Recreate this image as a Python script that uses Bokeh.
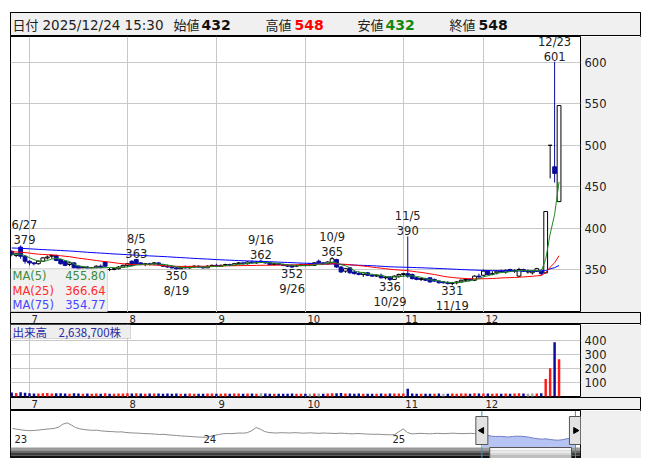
import numpy as np
import pandas as pd
from bokeh.plotting import figure
from bokeh.models import (Range1d, FixedTicker, BoxAnnotation, ColumnDataSource,
                          LabelSet, Label, Column)
from bokeh.core.properties import value
from bokeh.embed import file_html
from bokeh.resources import INLINE

# ---------------- data ----------------
holidays = ["2025-07-21", "2025-08-11", "2025-09-15", "2025-09-23",
            "2025-10-13", "2025-11-03", "2025-11-24"]
dates = [d for d in pd.bdate_range("2025-06-25", "2025-12-24")
         if d.strftime("%Y-%m-%d") not in holidays]

open_jun = [372, 367, 377, 366]
high_jun = [373, 370, 379, 367]
low_jun = [366, 365, 363, 357]
close_jun = [368, 369, 366, 360]

open_jul = [360, 358, 357, 360, 364, 366, 367, 362, 360, 356, 358, 354, 352, 353, 351, 352, 354, 359, 350, 350, 351, 353]
high_jul = [361, 359, 361, 365, 367, 368, 368, 363, 361, 359, 359, 355, 354, 354, 353, 355, 356, 360, 352, 352, 354, 356]
low_jul = [355, 355, 356, 359, 362, 363, 360, 356, 354, 354, 351, 349, 350, 350, 349, 351, 351, 353, 348, 349, 350, 352]
close_jul = [358, 357, 360, 364, 365, 367, 361, 357, 355, 358, 352, 350, 353, 351, 352, 354, 352, 354, 350, 351, 353, 355]

open_aug = [355, 360, 362, 358, 356, 357, 357, 358, 356, 354, 353, 352, 351, 353, 352, 353, 354, 353, 352, 354]
high_aug = [358, 361, 363, 359, 358, 358, 359, 359, 357, 356, 355, 353, 354, 355, 354, 355, 355, 354, 355, 356]
low_aug = [353, 354, 356, 355, 354, 355, 355, 355, 353, 352, 351, 350, 351, 351, 351, 352, 352, 351, 352, 353]
close_aug = [357, 355, 357, 356, 357, 356, 358, 356, 354, 353, 352, 351, 353, 352, 353, 354, 353, 352, 354, 355]

open_sep = [355, 354, 355, 356, 355, 357, 358, 357, 359, 358, 360, 359, 358, 356, 357, 356, 355, 355, 354, 355]
high_sep = [357, 356, 357, 357, 358, 359, 359, 360, 361, 360, 362, 360, 359, 358, 358, 357, 356, 356, 356, 357]
low_sep = [353, 353, 354, 354, 355, 356, 356, 356, 357, 357, 358, 357, 355, 355, 355, 354, 353, 352, 353, 354]
close_sep = [354, 355, 356, 355, 357, 358, 357, 359, 358, 359, 359, 358, 356, 357, 356, 355, 354, 353, 355, 356]

open_oct = [356, 357, 355, 360, 358, 357, 358, 362, 353, 348, 352, 347, 345, 344, 346, 343, 342, 343, 340, 341, 338, 342]
high_oct = [357, 358, 359, 362, 359, 360, 365, 363, 354, 352, 352, 349, 348, 347, 347, 345, 344, 345, 342, 342, 343, 345]
low_oct = [354, 354, 355, 357, 356, 356, 357, 352, 346, 346, 345, 344, 343, 341, 342, 341, 341, 339, 338, 336, 338, 340]
close_oct = [355, 355, 358, 358, 357, 359, 363, 353, 347, 351, 346, 345, 344, 346, 343, 342, 343, 340, 341, 338, 342, 344]

open_nov = [344, 345, 344, 340, 338, 339, 340, 338, 336, 335, 334, 333, 334, 335, 337, 338, 337, 342]
high_nov = [346, 390, 345, 341, 340, 340, 340, 339, 337, 336, 336, 335, 336, 338, 339, 339, 343, 345]
low_nov = [341, 340, 338, 337, 336, 336, 334, 335, 333, 333, 332, 331, 332, 334, 335, 336, 336, 340]
close_nov = [345, 342, 339, 338, 339, 337, 335, 336, 334, 334, 333, 334, 335, 337, 338, 337, 342, 341]

open_dec = [343, 348, 344, 346, 348, 347, 350, 348, 342, 350, 347, 346, 348, 349, 346, 500, 474, 432]
high_dec = [350, 349, 348, 349, 350, 350, 351, 350, 352, 351, 350, 349, 352, 350, 420, 500, 601, 548]
low_dec = [342, 343, 343, 344, 346, 345, 347, 346, 341, 347, 345, 344, 347, 343, 345, 460, 455, 432]
close_dec = [348, 344, 345, 348, 347, 349, 348, 349, 350, 348, 348, 348, 351, 345, 420, 500, 466, 548]

# closes before the visible window (for the moving averages)
pre_closes = [382, 384, 381, 379, 383, 386, 385, 388, 384, 380,
              378, 381, 379, 376, 380, 383, 382, 379, 377, 375,
              378, 380, 377, 374, 376, 379, 381, 378, 375, 377,
              380, 378, 376, 373, 375, 378, 376, 374, 377, 379,
              377, 375, 372, 374, 376, 378,
              376, 374, 372, 375, 377, 374, 371, 373, 376, 374,
              372, 370, 373, 375, 372, 369, 371, 374, 372, 370,
              368, 371, 373, 370, 368, 366, 369, 371]

# volume (10,000 shares)
volume = [28, 25, 30, 26,
          24, 22, 21, 23, 25, 22, 24, 23, 22, 20, 23, 21, 19, 22, 20, 21, 20, 23, 19, 20, 21, 22,
          23, 22, 24, 21, 20, 21, 22, 21, 20, 21, 20, 22, 19, 20, 21, 20, 19, 20, 21, 22,
          20, 19, 21, 20, 22, 21, 20, 22, 21, 20, 23, 21, 20, 19, 20, 19, 20, 21, 19, 20,
          20, 19, 21, 22, 20, 21, 24, 23, 25, 22, 21, 20, 21, 20, 19, 20, 19, 21, 20, 22, 21, 22,
          21, 55, 22, 20, 19, 20, 19, 20, 21, 19, 20, 21, 20, 21, 22, 20, 23, 21,
          22, 21, 20, 21, 20, 21, 20, 22, 23, 21, 20, 21, 22, 23, 124, 200, 386, 263.87]

# long-term navigator line (2023 - 2025)
nav_2023 = [404, 400, 396, 393, 391, 392, 394, 397, 400, 402, 405, 412, 430, 438, 425, 410, 402, 398, 395, 393,
            394, 390, 388, 386, 385, 383, 384, 380, 378, 377, 376, 374, 373, 372, 370, 368, 369, 366, 364, 362,
            360, 358, 357, 355, 353, 352]
nav_2024 = [351, 356, 362, 368, 372, 374, 373, 375, 377, 376, 380, 392, 410, 400, 386, 380, 378, 377, 379, 378,
            377, 379, 378, 376, 377, 378, 376, 375, 377, 376, 375, 374, 376, 375, 373, 372, 374, 373, 371, 370,
            369, 370, 368, 367, 366]
nav_2025a = [368, 385, 402, 380, 372, 373, 375, 374, 372, 373, 375, 374, 373, 375, 376, 374, 373, 374, 375, 373, 371]
nav_2025b = [369, 364, 358, 356, 357, 355, 353, 356, 358, 357, 355, 352, 346, 343, 340, 342, 338, 335, 334, 337,
             343, 346, 348]
nav_years = ["23", "24", "25"]

high_marks = ["6/27", "8/5", "9/16", "10/9", "11/5", "12/23"]
low_marks = ["8/19", "9/26", "10/29", "11/19"]
price_ticks = [350, 400, 450, 500, 550, 600]
vol_ticks = [100, 200, 300, 400]
ma_windows = [5, 25, 75]
ma_names = ["MA(5)", "MA(25)", "MA(75)"]
ma_values = ["455.80", "366.64", "354.77"]
ma_colors = ["#1E8A1E", "#FF0000", "#0000FF"]
ma_text_colors = ["#3C8C3C", "#FF2A2A", "#4646FF"]

# ---------------- derived ----------------
O = np.array(open_jun + open_jul + open_aug + open_sep + open_oct + open_nov + open_dec, float)
H = np.array(high_jun + high_jul + high_aug + high_sep + high_oct + high_nov + high_dec, float)
L = np.array(low_jun + low_jul + low_aug + low_sep + low_oct + low_nov + low_dec, float)
C = np.array(close_jun + close_jul + close_aug + close_sep + close_oct + close_nov + close_dec, float)
V = np.array(volume, float)
n = len(dates)
idx = np.arange(n, dtype=float)
date_str = [f"{d.month}/{d.day}" for d in dates]

all_close = pd.Series(list(pre_closes) + list(C))
mas = [all_close.rolling(w).mean().values[len(pre_closes):] for w in ma_windows]

month_pos, month_lab = [], []
for i in range(1, n):
    if dates[i].month != dates[i - 1].month:
        month_pos.append(float(i))
        month_lab.append(str(dates[i].month))

# ---------------- geometry ----------------
W = 631
PXX = 4.45
X0 = -1.2 / PXX
X1 = X0 + 570 / PXX
XS1 = X0 + 631 / PXX
PXY = 0.828
Y1 = 600 + 26 / PXY
Y0 = Y1 - 276 / PXY
VPX = 0.1409
VY0 = -7.0
VY1 = VY0 + 73 / VPX
NPX = 15.75
NX0 = -2 / NPX
NX1 = NX0 + 570 / NPX
NY1 = 512.0
NY0 = NY1 - 48 * 6


def mx(px):
    return X0 + (px - 10) / PXX


def my(py):
    return Y1 - (py - 36) / PXY


def vy(py):
    return VY1 - (py - 324) / VPX


def ny(py):
    return NY1 - (py - 410) * 6


GRID = "#C8C8C8"
PANEL = "#F0F0F0"
BLUE = "#0A0A9A"
RED = "#FF1A1A"
GRAY = "#A0A0A0"
TXT = "#222222"
FONT = "DejaVu Sans"
JP = "Noto Sans CJK JP"


def make_fig(h, xr, yr, right=0, border=PANEL, bg="white", yloc=None):
    p = figure(width=W, height=h, x_range=xr, y_range=yr, output_backend="svg",
               toolbar_location=None, x_axis_location=None, y_axis_location=yloc,
               min_border_left=0, min_border_right=right, min_border_top=0,
               min_border_bottom=0, background_fill_color=bg, border_fill_color=border,
               outline_line_color="black", outline_line_width=1, frame_align=False)
    p.xgrid.visible = False
    p.ygrid.visible = False
    return p


def style_axis(ax, ticks):
    ax.ticker = FixedTicker(ticks=ticks)
    ax.major_tick_line_color = None
    ax.minor_tick_line_color = None
    ax.axis_line_color = None
    ax.major_label_standoff = -2
    ax.major_label_text_font = FONT
    ax.major_label_text_font_size = "11.5px"
    ax.major_label_text_color = TXT


# ---------------- header ----------------
hdr = make_fig(24, Range1d(0, 631), Range1d(0, 24), bg=PANEL)
last = n - 1
hdr_lab = ["日付", "始値", "高値", "安値", "終値"]
hdr.text(x=[2, 163, 255, 347, 439], y=[12] * 5, text=hdr_lab, text_font=value(JP),
         text_font_size="13px", text_color=TXT, text_baseline="middle")
hdr.text(x=[32], y=[12], text=[dates[last].strftime("%Y/%m/%d") + " 15:30"],
         text_font=value(FONT), text_font_size="13.5px", text_color=TXT, text_baseline="middle")
hdr.text(x=[191, 284, 375, 468], y=[12] * 4,
         text=[f"{O[last]:.0f}", f"{H[last]:.0f}", f"{L[last]:.0f}", f"{C[last]:.0f}"],
         text_color=["#111111", "#FF0000", "#118811", "#111111"],
         text_font=value(FONT), text_font_size="14px", text_font_style="bold",
         text_baseline="middle")

# ---------------- main price chart ----------------
xr = Range1d(X0, X1)
p = make_fig(276, xr, Range1d(Y0, Y1), right=61, yloc="right")
style_axis(p.yaxis[0], price_ticks)
p.ygrid.visible = True
p.ygrid.grid_line_color = GRID
p.xgrid.visible = True
p.xgrid.ticker = FixedTicker(ticks=month_pos)
p.xgrid.grid_line_color = GRID

up = C >= O
dn = ~up
wick_col = np.where(dn, BLUE, "black")
p.segment(x0=idx, y0=L, x1=idx, y1=H, line_color=list(wick_col), line_width=1)
p.vbar(x=idx[up], width=0.85, top=C[up], bottom=O[up], fill_color="white", line_color="black")
p.vbar(x=idx[dn], width=0.85, top=O[dn], bottom=C[dn], fill_color=BLUE, line_color=BLUE)
for ma, col in zip(mas[::-1], ma_colors[::-1]):
    p.line(idx, ma, line_color=col, line_width=1)

hi_i = [date_str.index(d) for d in high_marks]
lo_i = [date_str.index(d) for d in low_marks]
hx = [max(idx[i], mx(10) + 14 / PXX) for i in hi_i]
hi_src = ColumnDataSource(dict(
    x=hx, yv=[H[i] + 1 / PXY for i in hi_i], yd=[H[i] + 13 / PXY for i in hi_i],
    tv=[f"{H[i]:.0f}" for i in hi_i], td=[date_str[i] for i in hi_i]))
lo_src = ColumnDataSource(dict(
    x=[idx[i] for i in lo_i], yv=[L[i] - 1 / PXY for i in lo_i], yd=[L[i] - 14 / PXY for i in lo_i],
    tv=[f"{L[i]:.0f}" for i in lo_i], td=[date_str[i] for i in lo_i]))
for src, base in ((hi_src, "bottom"), (lo_src, "top")):
    for fy, ft in (("yv", "tv"), ("yd", "td")):
        p.add_layout(LabelSet(x="x", y=fy, text=ft, source=src, text_align="center",
                              text_baseline=base, text_font=value(FONT),
                              text_font_size="11.5px", text_color=TXT))

p.add_layout(BoxAnnotation(left=X0, right=mx(107), top=my(268), bottom=Y0,
                           fill_color="#EEEEEE", fill_alpha=0.85, line_color="#999999",
                           line_width=1))
leg_src = ColumnDataSource(dict(
    xn=[mx(12)] * 3, xv=[mx(105)] * 3, y=[my(275), my(290), my(304)],
    name=ma_names, val=ma_values, col=ma_text_colors))
p.add_layout(LabelSet(x="xn", y="y", text="name", source=leg_src, text_align="left",
                      text_baseline="middle", text_font=value(FONT), text_font_size="11.5px",
                      text_color="col"))
p.add_layout(LabelSet(x="xv", y="y", text="val", source=leg_src, text_align="right",
                      text_baseline="middle", text_font=value(FONT), text_font_size="11.5px",
                      text_color="col"))


# ---------------- date strips ----------------
def date_strip(h):
    s = make_fig(h, Range1d(X0, XS1), Range1d(0, 1), bg=PANEL)
    s.text(x=month_pos, y=[0.5] * len(month_pos), text=month_lab, x_offset=2,
           text_font=value(FONT), text_font_size="10px", text_color=TXT,
           text_baseline="middle")
    return s


strip1 = date_strip(12)

# ---------------- volume ----------------
v = make_fig(73, xr, Range1d(VY0, VY1), right=61, yloc="right")
style_axis(v.yaxis[0], vol_ticks)
v.ygrid.visible = True
v.ygrid.grid_line_color = GRID
v.xgrid.visible = True
v.xgrid.ticker = FixedTicker(ticks=month_pos)
v.xgrid.grid_line_color = GRID
prev_close = np.concatenate([[pre_closes[-1]], C[:-1]])
vcol = np.where(C > prev_close, RED, np.where(C < prev_close, BLUE, GRAY))
v.vbar(x=idx, width=0.55, top=V, bottom=0, fill_color=list(vcol), line_color=None)
v.add_layout(BoxAnnotation(left=X0, right=mx(130), top=VY1, bottom=vy(338),
                           fill_color="#EEEEEE", fill_alpha=1.0, line_color="#888888"))
v.add_layout(Label(x=mx(12), y=vy(331.5), text=f"出来高　{int(round(V[-1] * 10000)):,}株",
                   text_font=JP, text_font_size="11.5px", text_color="#2A2AA6",
                   text_baseline="middle"))
v.add_layout(Label(x=mx(593), y=vy(390), text="(万株)", text_font=JP,
                   text_font_size="10px", text_color="#555555", text_baseline="middle"))

strip2 = date_strip(13)

# ---------------- navigator ----------------
nav_vals = np.array(nav_2023 + nav_2024 + nav_2025a + nav_2025b, float)


def month_of(d):
    return (d.year - 2023) * 12 + (d.month - 1) + (d.day - 1) / d.days_in_month


sel0 = month_of(dates[0])
sel1 = month_of(dates[-1])
nav_x = np.linspace(0, sel1, len(nav_vals))
nv = make_fig(48, Range1d(NX0, NX1), Range1d(NY0, NY1), right=61)
insel = nav_x >= sel0 - 1e-9
k0 = int(np.argmax(insel))
nv.varea(x=nav_x[k0:], y1=ny(447), y2=nav_vals[k0:], fill_color="#B7C3F2")
nv.line(nav_x[:k0 + 1], nav_vals[:k0 + 1], line_color="#8C8C8C", line_width=1)
nv.line(nav_x[k0:], nav_vals[k0:], line_color="#6F7FC8", line_width=1)
nv.text(x=[0, 12, 24], y=[ny(438)] * 3, text=nav_years, x_offset=2,
        text_font=value(FONT), text_font_size="10px", text_color=TXT, text_baseline="middle")
# scrollbar
bands = np.linspace(ny(458), ny(447), 5)
for j, col in enumerate(["#111111", "#3C3C3C", "#6A6A6A", "#9A9A9A"]):
    nv.quad(left=NX0, right=NX1, bottom=bands[j], top=bands[j + 1], fill_color=col, line_color=None)
for j, col in enumerate(["#BDBDBD", "#D6D6D6", "#E9E9E9", "#F7F7F7"]):
    nv.quad(left=sel0 + 0.5, right=sel1 - 0.25, bottom=bands[j], top=bands[j + 1],
            fill_color=col, line_color=None)
nv.quad(left=sel0 + 0.5, right=sel1 - 0.25, bottom=bands[0], top=bands[-1],
        fill_color=None, line_color="#555555")
nv.segment(x0=[sel0, sel1], x1=[sel0, sel1], y0=[NY0, NY0], y1=[NY1, NY1],
           line_color="#3399CC", line_width=1)
hw = 6 / NPX
nv.quad(left=[sel0 - hw, sel1 - hw], right=[sel0 + hw, sel1 + hw],
        bottom=[ny(444)] * 2, top=[ny(416)] * 2, fill_color="#E2E2E2", line_color="#555555")
nv.scatter(x=[sel0, sel1], y=[ny(430)] * 2, marker="triangle", size=6,
           angle=[np.pi / 2, -np.pi / 2], fill_color="black", line_color="black")

layout = Column(children=[hdr, p, strip1, v, strip2, nv], spacing=0, margin=(12, 0, 0, 10),
                styles={"outline": "1px solid #000000", "outline-offset": "-1px"})
open("out.html", "w").write(file_html(layout, INLINE))
